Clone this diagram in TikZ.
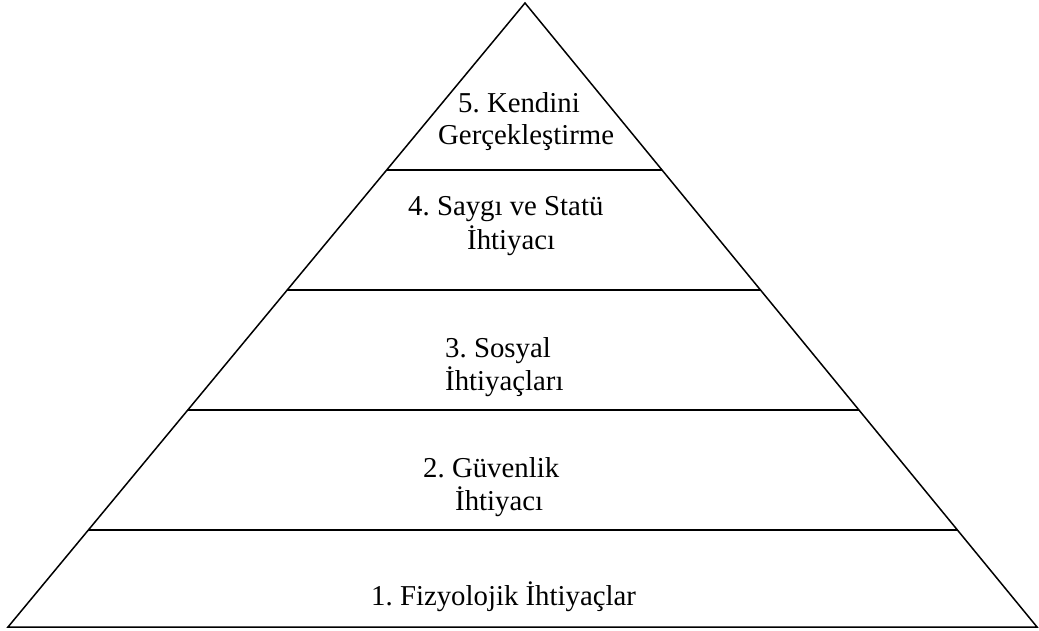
\documentclass[tikz,border=0pt]{standalone}
\usepackage{fontspec}
\setmainfont{Liberation Serif}
\usetikzlibrary{calc}
\frenchspacing
\begin{document}
\begin{tikzpicture}[x=1pt,y=-1pt,
  edge/.style={line width=1.5pt,line join=miter},
  level/.style={line width=1.5pt},
  lbl/.style={anchor=base west,inner sep=0pt,font=\fontsize{28.8}{33}\selectfont}]
\useasboundingbox[fill=white] (0,0) rectangle (1039,630);
% pyramid outline
\coordinate (apex) at (525,3);
\coordinate (baseL) at (8,627);
\coordinate (baseR) at (1037,627);
\draw[edge] (apex) -- (baseL) -- (baseR) -- cycle;
% level dividers
\foreach \yy/\nm in {170/lvA,290/lvB,410/lvC,530/lvD}{
  \coordinate (\nm-w) at ($(apex)!{(\yy-3)/624}!(baseL)$);
  \coordinate (\nm-e) at ($(apex)!{(\yy-3)/624}!(baseR)$);
  \draw[level] (\nm-w) -- (\nm-e);
}
% level labels
\node[lbl] (t5a) at (458,112) {5. Kendini};
\node[lbl] (t5b) at (438,144) {Gerçekleştirme};
\node[lbl] (t4a) at (408,215) {4. Saygı ve Statü};
\node[lbl] (t4b) at (467,249) {İhtiyacı};
\node[lbl] (t3a) at (445,357) {3. Sosyal};
\node[lbl] (t3b) at (445,390) {İhtiyaçları};
\node[lbl] (t2a) at (423,477) {2. Güvenlik};
\node[lbl] (t2b) at (455,510) {İhtiyacı};
\node[lbl] (t1) at (371,605) {1. Fizyolojik İhtiyaçlar};
\end{tikzpicture}
\end{document}
